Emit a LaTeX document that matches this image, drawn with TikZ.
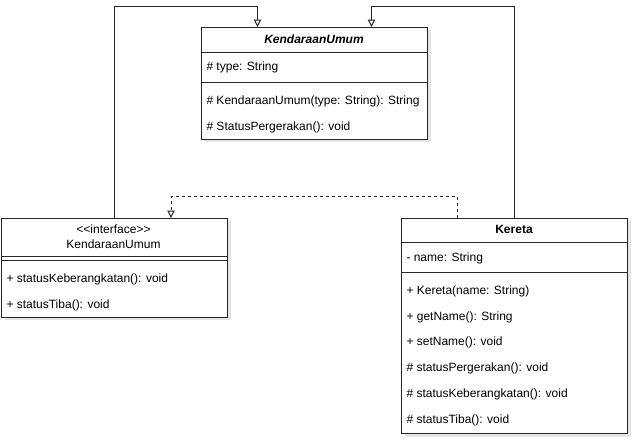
\documentclass[tikz,border=0pt]{standalone}
\usepackage{fontspec}
\setmainfont{Liberation Sans}
\usetikzlibrary{arrows.meta,calc,shadows}
\begin{document}
\begin{tikzpicture}[x=0.75pt,y=-0.75pt,
  line width=0.75pt,
  classbox/.style={draw=black!85,fill=white,anchor=north west,inner sep=0pt,
    drop shadow={shadow xshift=2.25pt,shadow yshift=-2.25pt,opacity=0.1,fill=black}},
  txt/.style={anchor=west,inner sep=0pt,font=\fontsize{9}{11}\selectfont,text height=6.8pt,text depth=2.2pt},
  ctxt/.style={anchor=center,inner sep=0pt,font=\fontsize{9}{11}\selectfont,text height=6.8pt,text depth=2.2pt},
  sep/.style={draw=black!85,line width=0.75pt},
  gen/.style={draw=black!85,-{Triangle[open,length=5.5pt,width=5.5pt,fill=white]}},
  real/.style={gen,dash pattern=on 2.25pt off 2.25pt}
]
\useasboundingbox (0,0) rectangle (638,448);

% KendaraanUmum (abstract class)
\node[classbox,minimum width=169.5pt,minimum height=84pt] (ku) at (201,27) {};
\node[ctxt,font=\fontsize{9}{11}\selectfont\bfseries\itshape] (kuT) at (314,40) {KendaraanUmum};
\draw[sep] (201,53) -- (427,53);
\node[txt] (kuA) at (206,67) {\# type: String};
\draw[sep] (201,83) -- (427,83);
\node[txt] (kuM1) at (206,101) {\# KendaraanUmum(type: String): String};
\node[txt] (kuM2) at (206,127) {\# StatusPergerakan(): void};

% Interface
\node[classbox,minimum width=169.5pt,minimum height=74.25pt] (iface) at (1,218) {};
\node[ctxt] (ifS) at (113.5,230) {<{}<interface>{}>};
\node[ctxt] (ifT) at (113.5,245) {KendaraanUmum};
\draw[sep] (1,257) -- (227,257);
\draw[sep] (1,261) -- (227,261);
\node[txt] (ifM1) at (6,279) {+ statusKeberangkatan(): void};
\node[txt] (ifM2) at (6,305) {+ statusTiba(): void};

% Kereta
\node[classbox,minimum width=169.5pt,minimum height=161.25pt] (ke) at (401,218) {};
\node[ctxt,font=\fontsize{9}{11}\selectfont\bfseries] (keT) at (514,230.5) {Kereta};
\draw[sep] (401,243) -- (627,243);
\node[txt] (keA) at (406,258) {- name: String};
\draw[sep] (401,273) -- (627,273);
\node[txt] (keM1) at (406,291) {+ Kereta(name: String)};
\node[txt] (keM2) at (406,317) {+ getName(): String};
\node[txt] (keM3) at (406,342) {+ setName(): void};
\node[txt] (keM4) at (406,368) {\# statusPergerakan(): void};
\node[txt] (keM5) at (406,394) {\# statusKeberangkatan(): void};
\node[txt] (keM6) at (406,420) {\# statusTiba(): void};

% connectors
\draw[gen] (iface.north) -- ++(0,-211) -| ($(ku.north)+(-57,0)$);
\draw[gen] (ke.north) -- ++(0,-211) -| ($(ku.north)+(57,0)$);
\draw[real] ($(ke.north)+(-57,0)$) -- ++(0,-21) -| ($(iface.north)+(56.5,0)$);
\end{tikzpicture}
\end{document}
